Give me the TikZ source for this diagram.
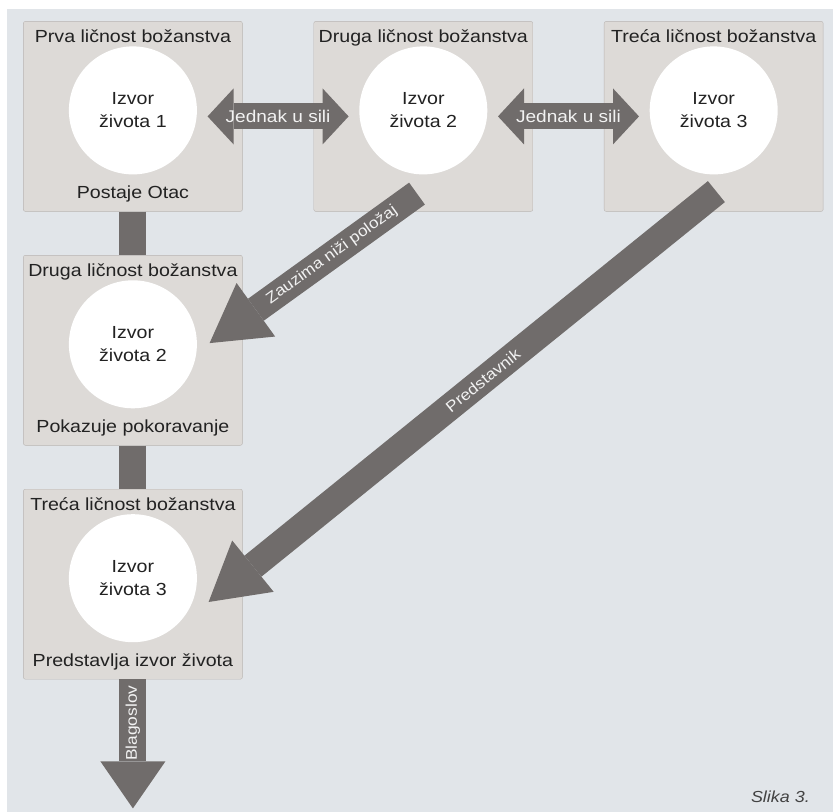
\documentclass[tikz,border=0pt]{standalone}
\usepackage{fontspec}
\setmainfont{Liberation Sans}[FakeStretch=1.12]
\usetikzlibrary{matrix,arrows.meta}

\definecolor{backdrop}{HTML}{E1E5E9}
\definecolor{boxfill}{HTML}{DDDAD7}
\definecolor{boxline}{HTML}{B9B5B2}
\definecolor{arrowgray}{HTML}{706C6B}
\definecolor{ink}{HTML}{222222}
\definecolor{tagwhite}{HTML}{F2F2F2}
\newcommand{\bigfont}{\fontsize{17.5bp}{23bp}\selectfont}
\newcommand{\tagfont}{\fontsize{17bp}{20bp}\selectfont}
\newcommand{\slopefont}{\fontsize{15.5bp}{18bp}\selectfont}

\begin{document}
\begin{tikzpicture}[
	box/.style={draw=boxline,fill=boxfill,rounded corners=2bp,minimum width=219bp,minimum height=190bp,inner sep=0pt},
	source/.style={circle,fill=white,minimum size=128bp,inner sep=0pt,align=center,font=\bigfont,text=ink},
	heading/.style={anchor=base,inner sep=0pt,font=\bigfont,text=ink},
	tag/.style={inner sep=0pt,font=\tagfont,text=tagwhite},
	bar/.style={color=arrowgray,line width=27bp},
	bigarrow/.style={bar,-{Triangle[length=57bp,width=66bp,line width=0pt]}},
	twoway/.style={color=arrowgray,line width=26bp,{Triangle[length=26bp,width=56bp,line width=0pt]}-{Triangle[length=26bp,width=56bp,line width=0pt]}}
]
\useasboundingbox (0,0) rectangle (833bp,-812bp);
\fill[backdrop] (7bp,-9bp) rectangle (833bp,-812bp);

\matrix (m) [matrix of nodes,row sep=43.5bp,column sep=71bp,nodes={box},anchor=north west,inner sep=0pt] at (23bp,-21bp)
{
	{} & {} & {} \\
	{} & & \\
	{} & & \\};

% naslovi i natpisi u kutijama
\node[heading] (h1) at ([yshift=-21bp]m-1-1.north) {Prva ličnost božanstva};
\node[heading] (h2) at ([yshift=-21bp]m-1-2.north) {Druga ličnost božanstva};
\node[heading] (h3) at ([yshift=-21bp]m-1-3.north) {Treća ličnost božanstva};
\node[heading] (h4) at ([yshift=-21bp]m-2-1.north) {Druga ličnost božanstva};
\node[heading] (h5) at ([yshift=-21bp]m-3-1.north) {Treća ličnost božanstva};
\node[heading] (b1) at ([yshift=13bp]m-1-1.south) {Postaje Otac};
\node[heading] (b4) at ([yshift=13bp]m-2-1.south) {Pokazuje pokoravanje};
\node[heading] (b5) at ([yshift=13bp]m-3-1.south) {Predstavlja izvor života};

% izvori
\node[source] (c1) at ([yshift=6bp]m-1-1.center) {Izvor\\života 1};
\node[source] (c2) at ([yshift=6bp]m-1-2.center) {Izvor\\života 2};
\node[source] (c3) at ([yshift=6bp]m-1-3.center) {Izvor\\života 3};
\node[source] (c4) at ([yshift=6bp]m-2-1.center) {Izvor\\života 2};
\node[source] (c5) at ([yshift=6bp]m-3-1.center) {Izvor\\života 3};

\coordinate (z1) at ([shift={(-116bp,18bp)}]m-1-2.south east);
\coordinate (z2) at ([shift={(-33bp,-88bp)}]m-2-1.north east);
\coordinate (p1) at ([shift={(-107bp,20bp)}]m-1-3.south east);
\coordinate (p2) at ([shift={(-34bp,-113bp)}]m-3-1.north east);
\coordinate (blag) at ([yshift=-129bp]m-3-1.south);

\path[bar]
(m-1-1) edge (m-2-1)
(m-2-1) edge (m-3-1);
\path[twoway,shorten <=-35bp,shorten >=-35bp]
(m-1-1) edge node[tag] {Jednak u sili} (m-1-2)
(m-1-2) edge node[tag] {Jednak u sili} (m-1-3);
\path[bigarrow]
(z1) edge node[tag,sloped,pos=0.41,font=\slopefont] {Zauzima niži položaj} (z2)
(p1) edge node[tag,sloped,pos=0.46,font=\slopefont] {Predstavnik} (p2);
\path[bar,-{Triangle[length=47bp,width=65bp,line width=0pt]}]
(m-3-1) edge node[tag,sloped,rotate=180,pos=0.34,font=\slopefont] {Blagoslov} (blag);

\node[anchor=east,inner sep=0pt,text=ink!85,font=\fontsize{16bp}{19bp}\selectfont\itshape] (slika) at (810bp,-797bp) {Slika 3.};
\end{tikzpicture}
\end{document}
